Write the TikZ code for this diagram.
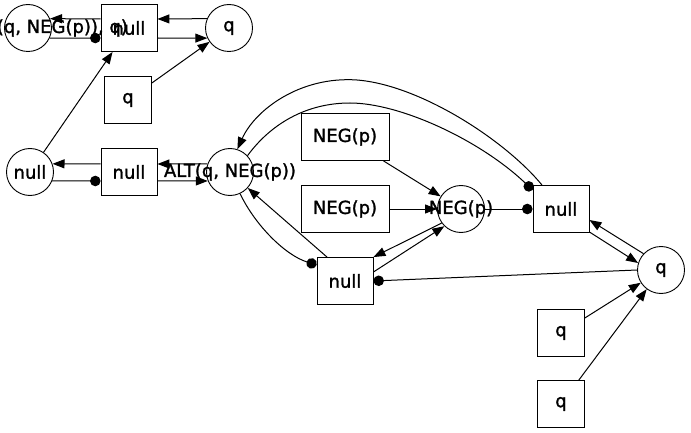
\documentclass[tikz,border=0pt]{standalone}
\usepackage{fontspec}
\setmainfont[FakeBold=1.5]{DejaVu Sans}
\usetikzlibrary{arrows.meta}
\begin{document}
\begin{tikzpicture}[x=1pt,y=-1pt,
  every node/.style={font=\fontsize{18}{21}\selectfont, inner sep=0pt},
  circ/.style={draw, circle, minimum size=47pt, line width=0.9pt},
  ctext/.style={label={center:#1}},
  boxn/.style={draw, rectangle, minimum width=56pt, minimum height=47pt, line width=0.9pt},
  boxq/.style={draw, rectangle, minimum width=47pt, minimum height=47pt, line width=0.9pt},
  boxneg/.style={draw, rectangle, minimum width=88pt, minimum height=47pt, line width=0.9pt},
  edge/.style={line width=1pt},
  arr/.style={edge, -{Triangle[length=12pt,width=9pt]}},
  dotend/.style={edge, -{Circle[length=10.5pt]}}]
\useasboundingbox (0,0) rectangle (691,433);
% top row
\node[circ, ctext={ALT(ALT(q, NEG(p)), q)}] (ca) at (28,28) {};
\node[boxn] (bn) at (129,28) {null};
\node[circ, ctext={q}] (cq) at (229,28) {};
\node[boxq] (bq) at (128,100) {q};
% middle row
\node[circ, ctext={null}] (cn) at (30,172) {};
\node[boxn] (bm) at (129,172) {null};
\node[circ, ctext={ALT(q, NEG(p))}] (calt) at (230,172) {};
% right cluster
\node[boxneg] (bneg1) at (345,137) {NEG(p)};
\node[boxneg] (bneg2) at (345,209) {NEG(p)};
\node[circ, ctext={NEG(p)}] (cneg) at (461,209) {};
\node[boxn] (bnr) at (561,209) {null};
\node[circ, ctext={q}] (cqr) at (661,270) {};
\node[boxn] (bnb) at (345,281) {null};
\node[boxq] (bq1) at (561,333) {q};
\node[boxq] (bq2) at (561,404) {q};
% top edges
\draw[arr] (cq.157) -- ([yshift=9pt]bn.east);
\draw[arr] ([yshift=-10pt]bn.east) -- (cq.205);
\draw[arr] ([yshift=9pt]bn.west) -- (ca.23);
\draw[dotend] (ca.-25) -- ([yshift=-10pt]bn.west);
\draw[arr] (bq) -- (cq);
\draw[arr] (cn) -- (bn);
% middle edges
\draw[arr] ([yshift=8pt]bm.west) -- (cn.20);
\draw[dotend] (cn.-22) -- ([yshift=-9pt]bm.west);
\draw[arr] (calt.160) -- ([yshift=8pt]bm.east);
\draw[arr] ([yshift=-9pt]bm.east) -- (calt.-158);
% right edges
\draw[arr] (bneg1) -- (cneg);
\draw[arr] (bneg2) -- (cneg);
\draw[dotend] (cneg) -- (bnr);
\draw[arr] ([xshift=-19pt]bnr.north) .. controls (505,140) and (420,85) .. (357,80)
  .. controls (300,76) and (255,110) .. (calt.72);
\draw[dotend] (calt.43) .. controls (270,125) and (305,103) .. (350,103)
  .. controls (400,103) and (480,140) .. ([yshift=19pt]bnr.west);
\draw[arr] ([xshift=-18pt]bnb.north) -- (calt.-42);
\draw[dotend] (calt.-65) .. controls (255,225) and (285,255) .. ([yshift=16pt]bnb.west);
\draw[arr] (cneg.216) -- (bnb.north east);
\draw[arr] ([yshift=9pt]bnb.east) -- (cneg.226);
\draw[dotend] (cqr.180) -- (bnb.east);
\draw[arr] (cqr.137) -- ([yshift=-11pt]bnr.east);
\draw[arr] ([yshift=-23pt]bnr.east) -- (cqr.163);
\draw[arr] (bq1) -- (cqr);
\draw[arr] (bq2) -- (cqr);
\end{tikzpicture}
\end{document}
